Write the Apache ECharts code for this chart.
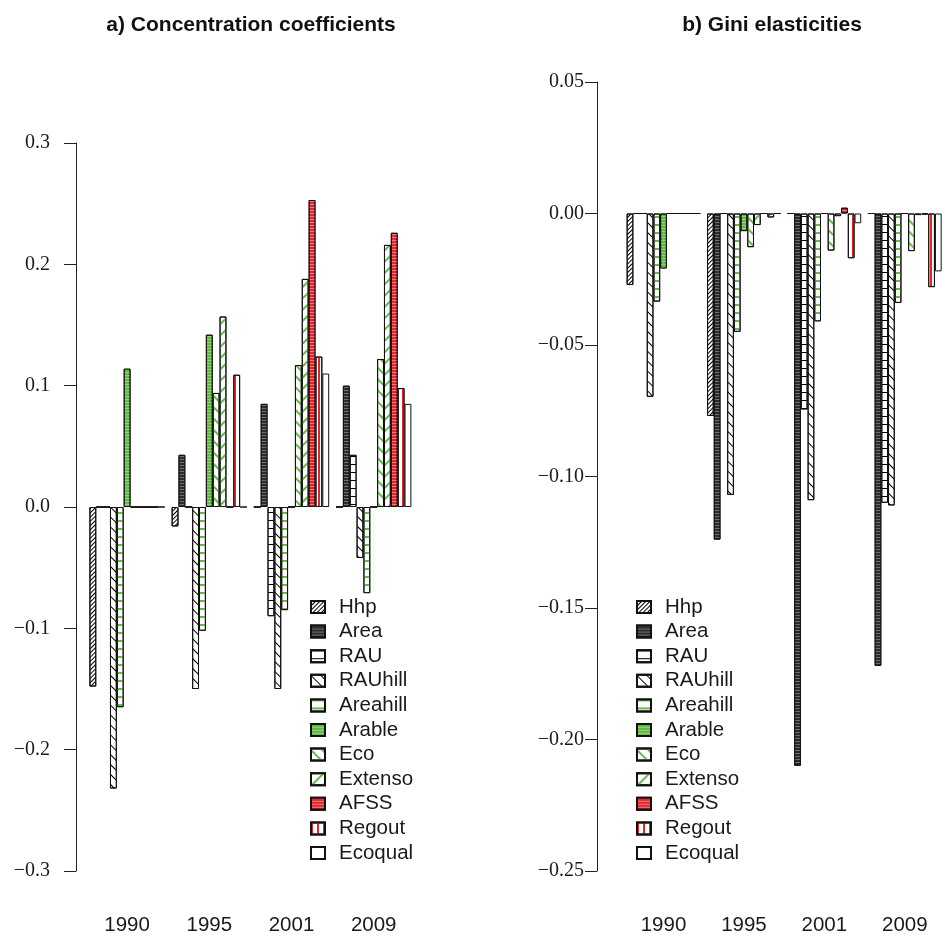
<!DOCTYPE html>
<html><head><meta charset="utf-8">
<script src="https://cdn.jsdelivr.net/npm/echarts@6/dist/echarts.min.js"></script>
<style>html,body{margin:0;padding:0;background:#fff}#c{width:945px;height:936px}</style>
</head><body><div id="c"></div>
<script>
// ---------- data ----------
const years = ['1990', '1995', '2001', '2009'];
const seriesNames = ['Hhp','Area','RAU','RAUhill','Areahill','Arable','Eco','Extenso','AFSS','Regout','Ecoqual'];
const yTicksA = [-0.3, 0.3, 0.1];   // min, max, step
const yTicksB = [-0.25, 0.05, 0.05];

// a) Concentration coefficients
const concHhp      = [-0.148, -0.016, 0, 0];
const concArea     = [0, 0.043, 0.085, 0.100];
const concRAU      = [0, 0, -0.090, 0.043];
const concRAUhill  = [-0.232, -0.150, -0.150, -0.042];
const concAreahill = [-0.165, -0.102, -0.085, -0.071];
const concArable   = [0.114, 0.142, 0, 0];
const concEco      = [0, 0.094, 0.117, 0.122];
const concExtenso  = [0, 0.157, 0.188, 0.216];
const concAFSS     = [0, 0, 0.253, 0.226];
const concRegout   = [0, 0.109, 0.124, 0.098];
const concEcoqual  = [0, 0, 0.110, 0.085];

// b) Gini elasticities
const giniHhp      = [-0.0272, -0.077, 0, 0];
const giniArea     = [0, -0.124, -0.210, -0.172];
const giniRAU      = [0, 0, -0.0745, -0.110];
const giniRAUhill  = [-0.0697, -0.107, -0.109, -0.111];
const giniAreahill = [-0.0335, -0.045, -0.041, -0.034];
const giniArable   = [-0.0209, -0.0067, 0, 0];
const giniEco      = [0, -0.0128, -0.0141, -0.0143];
const giniExtenso  = [0, -0.0044, -0.0010, -0.0006];
const giniAFSS     = [0, 0, 0.0022, -0.0003];
const giniRegout   = [0, -0.0015, -0.0170, -0.0280];
const giniEcoqual  = [0, 0, -0.0037, -0.0220];

const concData = [concHhp, concArea, concRAU, concRAUhill, concAreahill, concArable, concEco, concExtenso, concAFSS, concRegout, concEcoqual];
const giniData = [giniHhp, giniArea, giniRAU, giniRAUhill, giniAreahill, giniArable, giniEco, giniExtenso, giniAFSS, giniRegout, giniEcoqual];

// ---------- styles ----------
const GREEN = '#62bb46', RED = '#e8232b';
const SLASH = -Math.PI / 4, BACK = Math.PI / 4;
function hlines(color, w, gap, rot) {
  return { symbol: 'rect', symbolSize: 1, color: color, dashArrayX: [1, 0], dashArrayY: [w, gap], rotation: rot || 0 };
}
function vlines(color, w, gap) {
  return { symbol: 'rect', symbolSize: 1, color: color, dashArrayX: [w, gap], dashArrayY: [1, 0], rotation: 0 };
}
const styles = [
  { color: '#fff', decal: hlines('#000', 1, 2, SLASH) },          // Hhp
  { color: '#2c2c2c', decal: hlines('#707070', 1, 2) },            // Area
  { color: '#fff', decal: hlines('#000', 1, 6.5) },                // RAU
  { color: '#fff', decal: hlines('#000', 1, 6, BACK) },            // RAUhill
  { color: '#fff', decal: hlines(GREEN, 1.2, 6) },                 // Areahill
  { color: GREEN, decal: hlines('#8fd070', 1, 2) },                // Arable
  { color: '#fff', decal: hlines(GREEN, 1.2, 6, BACK) },           // Eco
  { color: '#fff', decal: hlines(GREEN, 1.2, 6, SLASH) },          // Extenso
  { color: RED, decal: hlines('#f27a7e', 1, 2) },                  // AFSS
  { color: '#fff', decal: vlines(RED, 1.3, 4) },                   // Regout
  { color: '#fff' }                                                // Ecoqual
];

function fmt(dec) {
  return function (v) {
    if (Math.abs(v) < 1e-9) return (0).toFixed(dec);
    return (v < 0 ? '\u2212' : '') + Math.abs(v).toFixed(dec);
  };
}

const series = [];
[concData, giniData].forEach(function (panel, p) {
  panel.forEach(function (vals, i) {
    series.push({
      type: 'bar', name: seriesNames[i], xAxisIndex: p, yAxisIndex: p,
      data: vals, barGap: '0%', barCategoryGap: (100 / 12) + '%',
      itemStyle: Object.assign({ borderColor: '#111', borderWidth: 1 }, styles[i]),
      emphasis: { disabled: true }, animation: false
    });
  });
});

function xAx(g) {
  return {
    type: 'category', gridIndex: g, data: years,
    axisLine: { show: false }, axisTick: { show: false },
    axisLabel: { fontFamily: 'Liberation Sans', fontSize: 20.5, color: '#1a1a1a', margin: 44 }
  };
}
function yAx(g, t, off, dec, margin) {
  return {
    type: 'value', gridIndex: g, min: t[0], max: t[1], interval: t[2], offset: off,
    axisLine: { show: true, lineStyle: { color: '#222', width: 1 } },
    axisTick: { show: true, length: 12, lineStyle: { color: '#222', width: 1 } },
    splitLine: { show: false },
    axisLabel: { formatter: fmt(dec), fontFamily: 'Liberation Serif', fontSize: 20, color: '#1a1a1a', margin: margin }
  };
}
function leg(left) {
  return {
    data: seriesNames, orient: 'vertical', left: left, top: 591.5,
    itemWidth: 14, itemHeight: 12, itemGap: 3.6, selectedMode: false,
    icon: 'rect',
    formatter: function (n) { return '{s|}' + n; },
    textStyle: { fontFamily: 'Liberation Sans', fontSize: 20.5, lineHeight: 20, color: '#1a1a1a',
      rich: { s: { width: 9, lineHeight: 20 } } }
  };
}

const chart = echarts.init(document.getElementById('c'), null, { renderer: 'canvas' });
chart.setOption({
  backgroundColor: '#fff',
  animation: false,
  grid: [
    { left: 86, top: 143, width: 328.8, height: 729 },
    { left: 623.3, top: 82, width: 326.8, height: 790 }
  ],
  xAxis: [xAx(0), xAx(1)],
  yAxis: [yAx(0, yTicksA, 10, 1, 26), yAx(1, yTicksB, 26.3, 2, 13)],
  legend: [leg(305), leg(631)],
  graphic: [
    { type: 'text', x: 251, y: 25, style: { text: 'a) Concentration coefficients', font: 'bold 21px "Liberation Sans"', fill: '#111', align: 'center', verticalAlign: 'middle' } },
    { type: 'text', x: 772, y: 25, style: { text: 'b) Gini elasticities', font: 'bold 21px "Liberation Sans"', fill: '#111', align: 'center', verticalAlign: 'middle' } }
  ],
  series: series
});
</script></body></html>
